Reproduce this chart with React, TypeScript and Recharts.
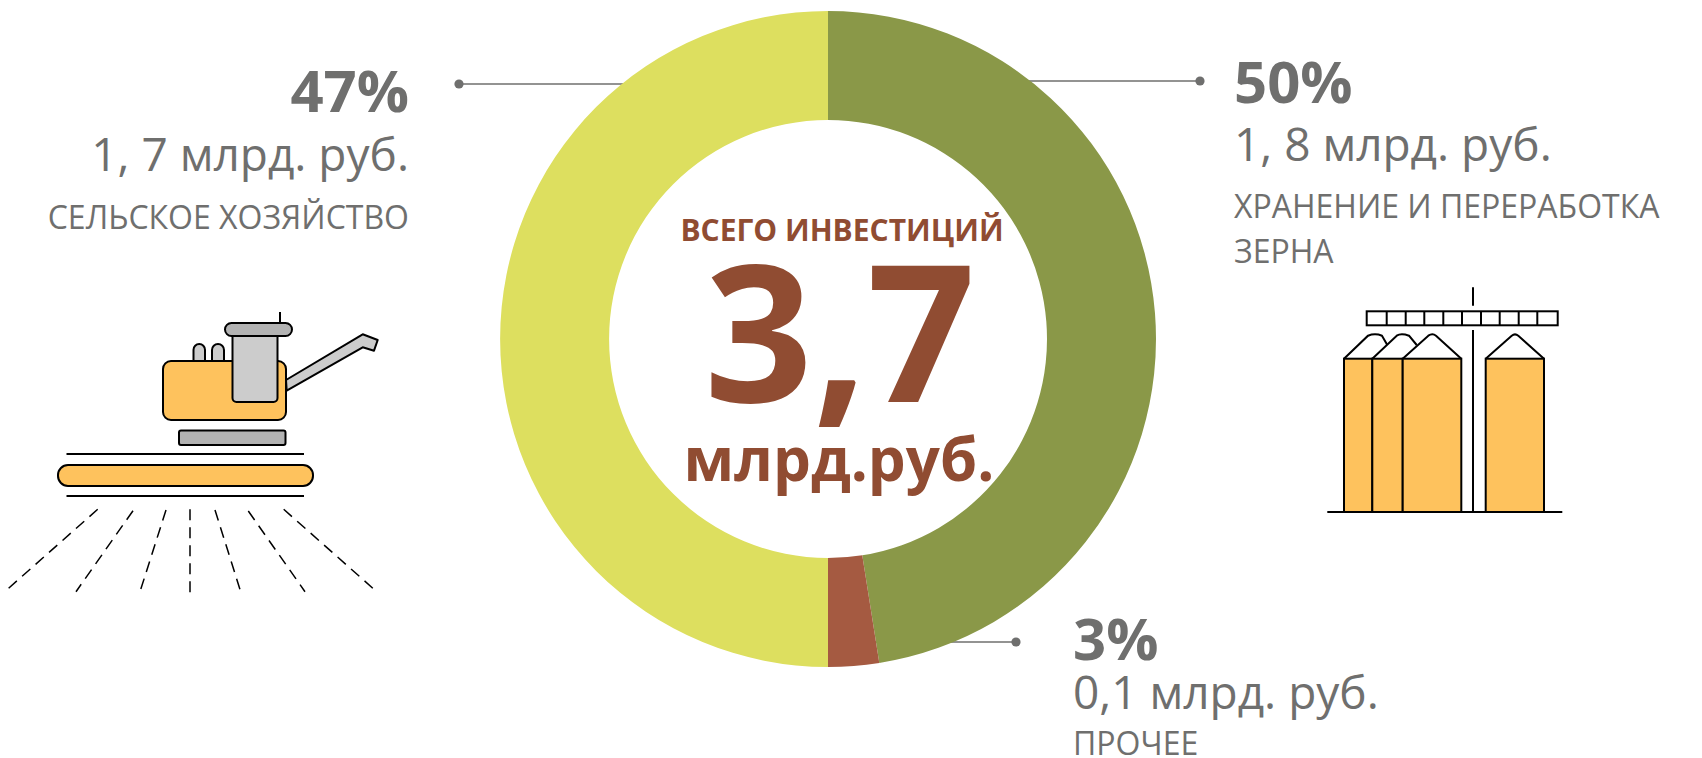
import React from 'react'
import { PieChart, Pie, Cell } from 'recharts'

const sectors = ['Хранение и переработка зерна', 'Прочее', 'Сельское хозяйство']
// shares as the ring is actually drawn in the picture
const ringShares = [47.5, 2.5, 50]
const ringColors = ['#8a9848', '#a55a41', '#dddf5f']

const chartData = sectors.map((name, i) => ({ name, value: ringShares[i] }))

const GREY = '#6f6f6e'
const BROWN = '#904c32'
const ORANGE = '#fec25d'
const FONT = '"Open Sans", sans-serif'

function Leader({ x1, x2, y }: { x1: number; x2: number; y: number }) {
  return (
    <g>
      <line x1={x1} x2={x2} y1={y} y2={y} stroke={GREY} strokeWidth={1.6} />
      <circle cx={x1} cy={y} r={4.6} fill={GREY} />
    </g>
  )
}

function Harvester() {
  const rays = [
    [97.7, 509.3, 4.7, 591.7],
    [133, 510.7, 76, 591.7],
    [166, 510, 140, 591.7],
    [190, 509.3, 190, 592.7],
    [215, 510, 240.7, 591.7],
    [248.3, 511, 305, 591.7],
    [283.7, 509.3, 376.7, 591.7],
  ]
  return (
    <g stroke="#000" strokeWidth={2}>
      <line x1={280} x2={280} y1={312} y2={323} />
      <polygon points="286,380 362.7,334.3 377.7,340 374,350.7 362.7,347.3 286.7,390.7" fill="#ccc" strokeLinejoin="round" />
      <rect x={193.5} y={344} width={11.5} height={24} rx={5.7} fill="#ccc" />
      <rect x={212} y={344} width={12} height={24} rx={6} fill="#ccc" />
      <rect x={163} y={361} width={123} height={59} rx={8} fill={ORANGE} />
      <rect x={232.5} y={330} width={45} height={72} rx={4} fill="#ccc" />
      <rect x={225} y={323} width={67} height={13} rx={6.5} fill="#b3b3b3" />
      <rect x={179} y={430.5} width={106.5} height={14.5} rx={2} fill="#b3b3b3" />
      <line x1={66.5} x2={304} y1={454} y2={454} />
      <rect x={58} y={465} width={255} height={21} rx={10} fill={ORANGE} />
      <line x1={66.5} x2={304} y1={496} y2={496} />
      {rays.map((r, i) => (
        <line key={i} x1={r[0]} y1={r[1]} x2={r[2]} y2={r[3]} strokeWidth={1.5} strokeDasharray="11 7" />
      ))}
    </g>
  )
}

function Silos() {
  const cells = [1386.7, 1405.7, 1424.3, 1443.3, 1462, 1481, 1499.7, 1518.7, 1537.3]
  const bins = [
    [1344, 1372.3],
    [1372.3, 1402.7],
    [1402.7, 1461.3],
    [1485.7, 1544],
  ]
  const roofs = [
    'M1344 358.7 L1368 335.7 Q1375 333 1382 335.7 L1387.3 345',
    'M1372.3 358.7 L1396.7 335.7 Q1401 333 1409 335.7 L1416.7 345',
    'M1402.7 358.7 L1428.3 335.7 Q1432.5 333 1436 335.7 L1461.3 358.7',
    'M1485.7 358.7 L1511.7 335.7 Q1515 333 1518.3 335.7 L1544 358.7',
  ]
  return (
    <g stroke="#000" strokeWidth={2} fill="none">
      <line x1={1473} x2={1473} y1={287.3} y2={305.7} />
      <line x1={1473} x2={1473} y1={330} y2={512} />
      <rect x={1366.7} y={311.3} width={191} height={14} fill="#fff" />
      {cells.map((x) => (
        <line key={x} x1={x} x2={x} y1={311.3} y2={325.3} />
      ))}
      {roofs.map((d, i) => (
        <path key={i} d={d} />
      ))}
      {bins.map((b, i) => (
        <rect key={i} x={b[0]} y={358.7} width={b[1] - b[0]} height={153.3} fill={ORANGE} />
      ))}
      <line x1={1327.3} x2={1562.3} y1={512} y2={512} />
    </g>
  )
}

export default function App(): React.ReactElement {
  return (
    <div style={{ position: 'absolute', left: 0, top: 0, width: 1702, height: 758, background: '#fff' }}>
      <PieChart width={1702} height={758} margin={{ top: 0, right: 0, bottom: 0, left: 0 }}>
        <Pie
          data={chartData}
          dataKey="value"
          nameKey="name"
          cx={828}
          cy={339}
          innerRadius={219}
          outerRadius={328}
          startAngle={90}
          endAngle={-270}
          stroke="none"
          isAnimationActive={false}
        >
          {chartData.map((entry, i) => (
            <Cell key={entry.name} fill={ringColors[i]} />
          ))}
        </Pie>

        <Leader x1={459} x2={662} y={84} />
        <Leader x1={1200} x2={998} y={81} />
        <Leader x1={1016} x2={848} y={642} />

        <g fontFamily={FONT} fill={GREY}>
          <text x={409} y={112} textAnchor="end" fontSize={58} fontWeight={700}>47%</text>
          <text x={409} y={171} textAnchor="end" fontSize={46}>1, 7 млрд. руб.</text>
          <text x={409} y={229} textAnchor="end" fontSize={32}>СЕЛЬСКОЕ ХОЗЯЙСТВО</text>

          <text x={1234} y={103} fontSize={58} fontWeight={700}>50%</text>
          <text x={1234} y={161} fontSize={46}>1, 8 млрд. руб.</text>
          <text x={1234} y={218} fontSize={32}>ХРАНЕНИЕ И ПЕРЕРАБОТКА</text>
          <text x={1234} y={263} fontSize={32}>ЗЕРНА</text>

          <text x={1073} y={660} fontSize={58} fontWeight={700}>3%</text>
          <text x={1073} y={709} fontSize={46}>0,1 млрд. руб.</text>
          <text x={1073} y={755} fontSize={32}>ПРОЧЕЕ</text>
        </g>

        <g fontFamily={FONT} fill={BROWN} fontWeight={700} textAnchor="middle">
          <text x={842} y={241} fontSize={30}>ВСЕГО ИНВЕСТИЦИЙ</text>
          <text x={840} y={402} fontSize={190}>3,7</text>
          <text x={839} y={481} fontSize={60}>млрд.руб.</text>
        </g>

        <Harvester />
        <Silos />
      </PieChart>
    </div>
  )
}
